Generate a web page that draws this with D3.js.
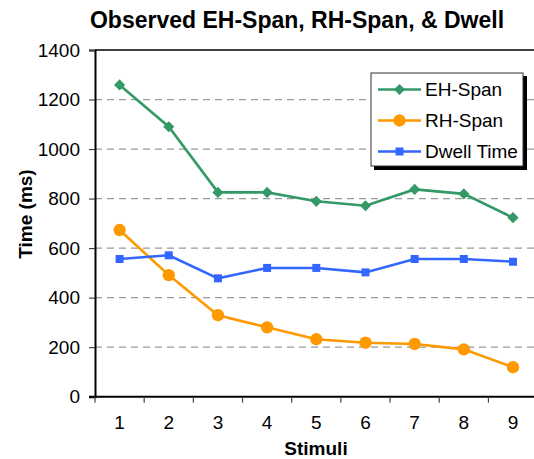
<!DOCTYPE html>
<meta charset="utf-8">
<html>
<head>
  <meta charset="utf-8">
  <title>Observed spans</title>
</head>
<style>
  body { margin: 0; background: #fff; }
  text { font-family: Arial, "Liberation Sans", sans-serif; fill: #000; }
  .grid line { stroke: #999; stroke-dasharray: 7,5; stroke-width: 1.2px; }
</style>
<body>
<svg width="534" height="459"></svg>
<script src="https://d3js.org/d3.v7.min.js"></script>
<script>

var stimuli = [1, 2, 3, 4, 5, 6, 7, 8, 9];
var ehSpan = [1259, 1090, 825, 825, 789, 771, 837, 819, 723];
var rhSpan = [673, 491, 329, 280, 232, 218, 213, 191, 119];
var dwell  = [556, 571, 478, 520, 520, 502, 556, 556, 545];
var yTicks = [0, 200, 400, 600, 800, 1000, 1200, 1400];

var series = [
  {name: "EH-Span",    values: ehSpan, color: "#339966", shape: "diamond"},
  {name: "RH-Span",    values: rhSpan, color: "#FF9900", shape: "circle"},
  {name: "Dwell Time", values: dwell,  color: "#3366FF", shape: "square"}
];

var svg = d3.select("svg");
var plotL = 95, plotR = 537.6, plotT = 50, plotB = 396.7;

var x = d3.scaleBand().domain(stimuli).range([plotL, plotR]);
var y = d3.scaleLinear().domain([0, 1400]).range([plotB, plotT]);

// gridlines
svg.append("g").attr("class", "grid")
  .selectAll("line").data(yTicks.filter(function(d){ return d > 0 && d < 1400; }))
  .enter().append("line")
    .attr("x1", plotL).attr("x2", 534)
    .attr("y1", function(d){ return y(d); }).attr("y2", function(d){ return y(d); });

// top border
svg.append("line").attr("x1", plotL).attr("x2", 534)
  .attr("y1", y(1400)).attr("y2", y(1400))
  .attr("stroke", "#000").attr("stroke-width", 1.5);

// y axis
var yAxis = svg.append("g").attr("transform", "translate(" + plotL + ",0)")
  .call(d3.axisLeft(y).tickValues(yTicks).tickFormat(d3.format("d")).tickSize(6).tickPadding(9));
yAxis.select(".domain").attr("stroke", "#000").attr("stroke-width", 2);
yAxis.selectAll(".tick line").attr("stroke", "#444").attr("stroke-width", 1.2);
yAxis.selectAll("text").style("font-size", "19px").attr("fill", "#000");

// x axis
var xAxis = svg.append("g").attr("transform", "translate(0," + plotB + ")")
  .call(d3.axisBottom(x).tickSize(0).tickPadding(19));
xAxis.select(".domain").remove();
xAxis.selectAll("text").style("font-size", "19px").attr("fill", "#000");
svg.append("line").attr("x1", plotL - 6).attr("x2", 534)
  .attr("y1", plotB).attr("y2", plotB)
  .attr("stroke", "#000").attr("stroke-width", 2);
svg.append("g").selectAll("line").data(d3.range(stimuli.length + 1))
  .enter().append("line")
    .attr("x1", function(i){ return plotL + i * x.step(); })
    .attr("x2", function(i){ return plotL + i * x.step(); })
    .attr("y1", plotB).attr("y2", plotB + 6)
    .attr("stroke", "#444").attr("stroke-width", 1.2);

// lines + markers
var cx = function(d, i){ return x(stimuli[i]) + x.bandwidth() / 2; };
var symbols = {
  diamond: d3.symbol().type(d3.symbolSquare).size(62),
  circle: d3.symbol().type(d3.symbolCircle).size(120),
  square: d3.symbol().type(d3.symbolSquare).size(64)
};

series.forEach(function(s) {
  var line = d3.line().x(cx).y(function(d){ return y(d); });
  svg.append("path").datum(s.values)
    .attr("fill", "none").attr("stroke", s.color).attr("stroke-width", 2.6)
    .attr("d", line);
  svg.append("g").selectAll("path").data(s.values)
    .enter().append("path")
      .attr("d", symbols[s.shape])
      .attr("fill", s.color)
      .attr("transform", function(d, i){
        return "translate(" + cx(d, i) + "," + y(d) + ")" + (s.shape == "diamond" ? " rotate(45)" : "");
      });
});

// legend
var lg = svg.append("g").attr("transform", "translate(371,73)");
lg.append("rect").attr("x", 3).attr("y", 3).attr("width", 153).attr("height", 94).attr("fill", "#000");
lg.append("rect").attr("x", 0).attr("y", 0).attr("width", 152).attr("height", 93)
  .attr("fill", "#fff").attr("stroke", "#333").attr("stroke-width", 1);
series.forEach(function(s, i) {
  var yy = 16.5 + i * 31;
  lg.append("line").attr("x1", 7).attr("x2", 50).attr("y1", yy).attr("y2", yy)
    .attr("stroke", s.color).attr("stroke-width", 2.6);
  lg.append("path").attr("d", symbols[s.shape]).attr("fill", s.color)
    .attr("transform", "translate(28.5," + yy + ")" + (s.shape == "diamond" ? " rotate(45)" : ""));
  lg.append("text").attr("x", 54).attr("y", yy).attr("dy", "0.36em")
    .style("font-size", "19px").text(s.name);
});

// titles
svg.append("text").attr("x", 297).attr("y", 28).attr("text-anchor", "middle")
  .style("font-size", "23px").style("font-weight", "bold")
  .text("Observed EH-Span, RH-Span, & Dwell");
svg.append("text").attr("transform", "translate(32,214) rotate(-90)")
  .attr("text-anchor", "middle")
  .style("font-size", "19px").style("font-weight", "bold").text("Time (ms)");
svg.append("text").attr("x", 316).attr("y", 455).attr("text-anchor", "middle")
  .style("font-size", "19px").style("font-weight", "bold").text("Stimuli");

</script>
</body>
</html>
